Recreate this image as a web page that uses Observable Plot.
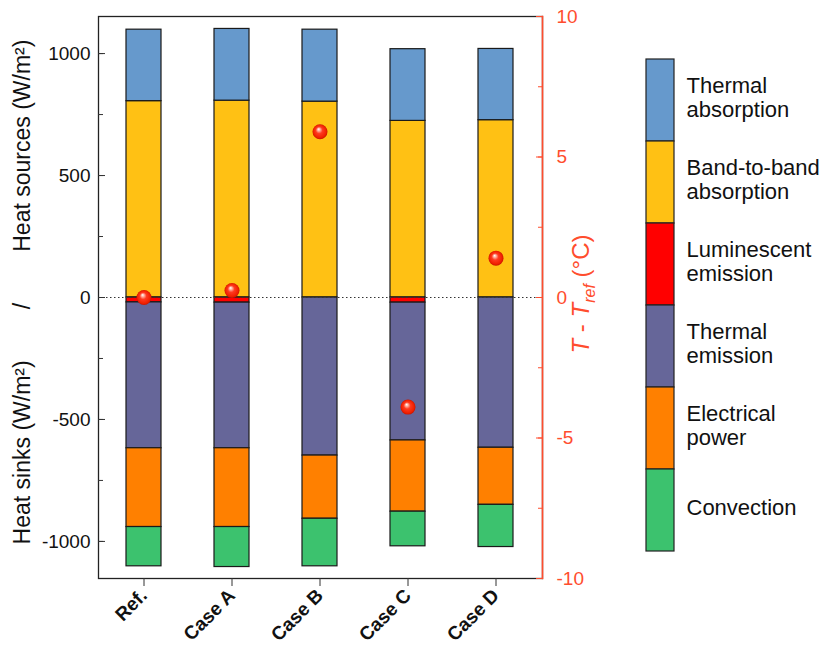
<!DOCTYPE html>
<html><head><meta charset="utf-8">
<script src="https://cdn.jsdelivr.net/npm/d3@7"></script>
<script src="https://cdn.jsdelivr.net/npm/@observablehq/plot@0.6"></script>
<style>
body{margin:0;background:#fff;font-family:"Liberation Sans",Arial,sans-serif;}
#wrap{position:relative;width:819px;height:648px;background:#fff;}
#main{position:absolute;left:0;top:0;}
#legend{position:absolute;left:630px;top:0;}
</style></head><body><div id="wrap"><div id="main"></div><div id="legend"></div></div>
<script>
// ---- data ----
const cases = ["Ref.", "Case A", "Case B", "Case C", "Case D"];
const stackOrder = ["Band-to-band absorption", "Thermal absorption", "Luminescent emission", "Thermal emission", "Electrical power", "Convection"];
const legendOrder = ["Thermal absorption", "Band-to-band absorption", "Luminescent emission", "Thermal emission", "Electrical power", "Convection"];
const legendLabels = ["Thermal\nabsorption", "Band-to-band\nabsorption", "Luminescent\nemission", "Thermal\nemission", "Electrical\npower", "Convection"];
const legendColors = ["#6699cc", "#ffc114", "#ff0000", "#666699", "#ff8000", "#3cc26e"];

const bandToBand  = [805, 807, 803, 724, 727];
const thermalAbs  = [293, 294, 295, 294, 292];
const luminescent = [-20, -21, 0, -21, 0];
const thermalEm   = [-598, -597, -648, -565, -616];
const electrical  = [-323, -323, -259, -292, -234];
const convection  = [-161, -164, -195, -142, -173];
const deltaT      = [0, 0.25, 5.9, -3.9, 1.4];

const leftTicks  = [-1000, -500, 0, 500, 1000];
const leftMinor  = [-1000, -750, -500, -250, 0, 250, 500, 750, 1000];
const rightTicks = [-10, -5, 0, 5, 10];
const rightMinor = [-10, -7.5, -5, -2.5, 0, 2.5, 5, 7.5, 10];

// ---- build ----
const yMax = 1152, tMax = 10, k = yMax / tMax;
const red = "#ff4d2e";
const seriesMap = {
  "Band-to-band absorption": bandToBand,
  "Thermal absorption": thermalAbs,
  "Luminescent emission": luminescent,
  "Thermal emission": thermalEm,
  "Electrical power": electrical,
  "Convection": convection
};
const rows = [];
stackOrder.forEach(c => cases.forEach((cs, i) => rows.push({cs, comp: c, value: seriesMap[c][i]})));
const temps = cases.map((cs, i) => ({cs, T: deltaT[i]}));

const font = "'Liberation Sans', Arial, sans-serif";

const main = Plot.plot({
  width: 620, height: 648,
  marginLeft: 98, marginRight: 78, marginTop: 16, marginBottom: 70,
  style: {fontFamily: font, fontSize: "19px", color: "#111", background: "white", overflow: "visible"},
  x: {domain: cases, paddingInner: 0.6, paddingOuter: 0.3, label: null},
  y: {domain: [-yMax, yMax], label: null},
  color: {domain: legendOrder, range: legendColors},
  marks: [
    Plot.barY(rows, Plot.stackY({x: "cs", y: "value", fill: "comp", order: stackOrder, stroke: "#1a1a1a", strokeWidth: 1.2})),
    Plot.ruleY([0], {stroke: "#333", strokeWidth: 1.2, strokeDasharray: "1.5,2.5"}),
    Plot.frame({stroke: "#222", strokeWidth: 1.3}),
    Plot.frame({anchor: "right", stroke: red, strokeWidth: 1.6}),
    Plot.axisY(leftTicks, {anchor: "left", tickSize: -7, tickPadding: 15, tickFormat: d => String(d), fontSize: 19, label: null, stroke: "#333"}),
    Plot.axisY(leftMinor, {anchor: "left", tickSize: -5, text: null, label: null, stroke: "#333"}),
    Plot.axisY(rightTicks.map(t => t * k), {anchor: "right", tickSize: -7, tickPadding: 21, tickFormat: d => String(Math.round(d / k)), fontSize: 19, label: null, color: red, stroke: red}),
    Plot.axisY(rightMinor.map(t => t * k), {anchor: "right", tickSize: -5, text: null, label: null, stroke: red}),
    Plot.axisX({anchor: "bottom", tickSize: 8, tickPadding: 6, tickRotate: -45, fontWeight: "bold", fontSize: 19, label: null, stroke: "#333"}),
    Plot.dot(temps, {x: "cs", y: d => d.T * k, r: 7.5, fill: "url(#sphere)"})
  ]
});
document.getElementById("main").appendChild(main);

const svg = d3.select(main);
const defs = svg.insert("defs", ":first-child");
const g = defs.append("radialGradient").attr("id", "sphere").attr("cx", "50%").attr("cy", "50%").attr("r", "50%").attr("fx", "40%").attr("fy", "32%");
[["0%", "#ffffff"], ["16%", "#ffc0b0"], ["45%", "#ff3a20"], ["85%", "#f02000"], ["100%", "#c81400"]].forEach(([o, c]) => g.append("stop").attr("offset", o).attr("stop-color", c));

// left title
svg.append("text")
  .attr("transform", "translate(30,292) rotate(-90)")
  .attr("text-anchor", "middle")
  .attr("fill", "#111")
  .style("font-size", "23px").style("font-family", font).style("white-space", "pre")
  .text("Heat sinks (W/m²)        /        Heat sources (W/m²)");

// right title
const rt = svg.append("text")
  .attr("transform", "translate(589,294) rotate(-90)")
  .attr("text-anchor", "middle")
  .attr("fill", red)
  .style("font-size", "24px").style("font-family", font);
rt.append("tspan").attr("font-style", "italic").text("T");
rt.append("tspan").text(" - ");
rt.append("tspan").attr("font-style", "italic").text("T");
rt.append("tspan").attr("font-style", "italic").attr("font-size", "16px").attr("dy", 6).text("ref");
rt.append("tspan").attr("dy", -6).text(" (°C)");

// legend
const legend = Plot.plot({
  width: 189, height: 648,
  margin: 0,
  style: {fontFamily: font, fontSize: "22px", color: "#111", background: "white", overflow: "visible"},
  x: {domain: ["c"], range: [16, 44], padding: 0, axis: null},
  y: {domain: legendOrder, range: [56, 553], padding: 0, axis: null},
  color: {domain: legendOrder, range: legendColors},
  marks: [
    Plot.cell(legendOrder, {x: () => "c", y: d => d, fill: d => d, stroke: "#222", strokeWidth: 1.2}),
    Plot.text(legendOrder, {x: () => "c", y: d => d, text: (d, i) => legendLabels[i], dx: 26, dy: -3, textAnchor: "start", lineHeight: 1.1, fontSize: 22, fill: "#111"})
  ]
});
document.getElementById("legend").appendChild(legend);
</script>
</body></html>
